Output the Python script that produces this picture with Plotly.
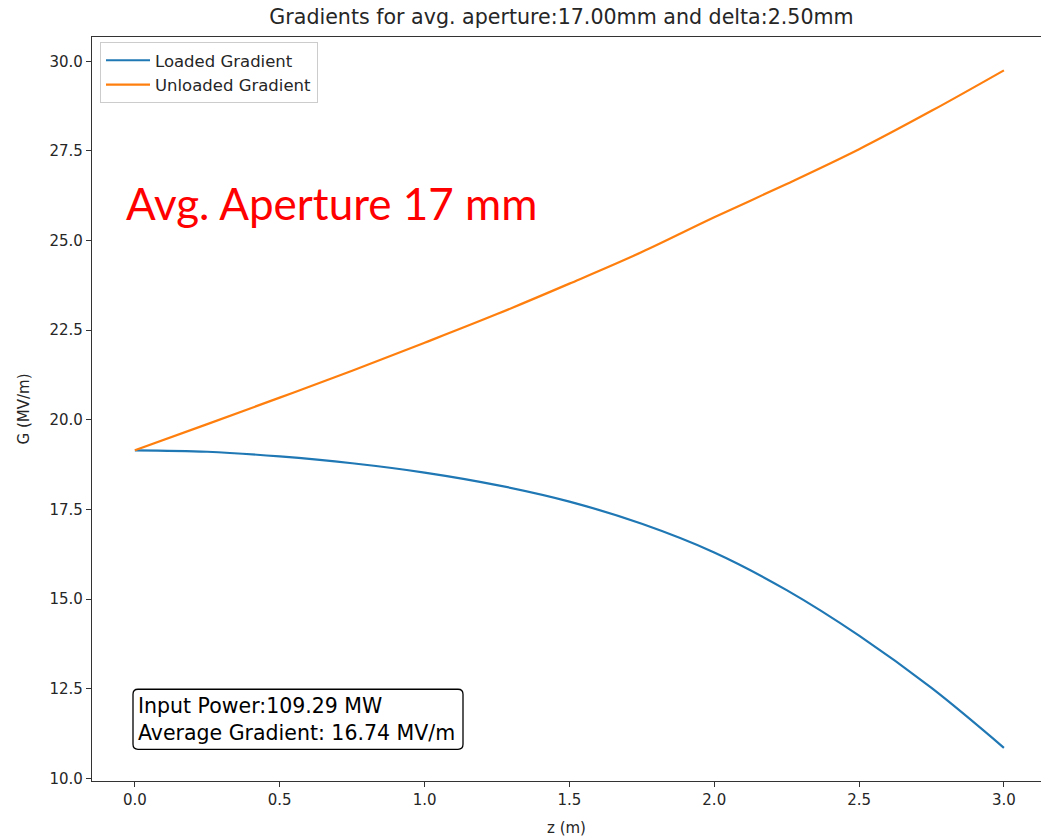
import plotly.graph_objects as go

# Position along the structure (m)
z = [0.0, 0.25, 0.5, 0.75, 1.0, 1.25, 1.5, 1.75, 2.0, 2.25, 2.5, 2.75, 3.0]

# Gradient profiles (MV/m)
loaded_gradient = [19.15, 19.11, 18.98, 18.79, 18.53, 18.18, 17.72, 17.10,
                   16.30, 15.25, 13.98, 12.52, 10.85]
unloaded_gradient = [19.15, 19.88, 20.62, 21.37, 22.15, 22.95, 23.80, 24.68,
                     25.65, 26.58, 27.55, 28.62, 29.75]

input_power_mw = 109.29
average_gradient = 16.74
avg_aperture_mm = 17.00
delta_mm = 2.50

x_ticks = [0.0, 0.5, 1.0, 1.5, 2.0, 2.5, 3.0]
y_ticks = [10.0, 12.5, 15.0, 17.5, 20.0, 22.5, 25.0, 27.5, 30.0]

TEXT = "#262626"
AXIS = "#333333"

# plot-area geometry in pixels
PL, PR, PT, PB = 92, 1041, 37, 780.7
PW, PH = PR - PL, PB - PT


def px(x):
    return (x - PL) / PW


def py(y):
    return (PB - y) / PH


fig = go.Figure()
fig.add_trace(go.Scatter(x=z, y=loaded_gradient, mode="lines", name="Loaded Gradient",
                         line=dict(color="#1f77b4", width=2.2, shape="spline")))
fig.add_trace(go.Scatter(x=z, y=unloaded_gradient, mode="lines", name="Unloaded Gradient",
                         line=dict(color="#ff7f0e", width=2.2, shape="spline")))

fig.update_layout(
    width=1041, height=838,
    margin=dict(l=PL, r=1041 - PR, t=PT, b=838 - PB),
    paper_bgcolor="white", plot_bgcolor="white",
    font=dict(family="DejaVu Sans", size=14, color=TEXT),
    showlegend=True,
    legend=dict(x=px(100), y=py(42), xanchor="left", yanchor="top",
                bgcolor="rgba(255,255,255,0.8)", bordercolor="#cccccc", borderwidth=1,
                font=dict(size=16.5, color=TEXT), tracegroupgap=0, itemwidth=44),
    title=dict(text=f"Gradients for avg. aperture:{avg_aperture_mm:.2f}mm and delta:{delta_mm:.2f}mm",
               x=px(561.5), xref="paper", xanchor="center",
               y=1 - 17 / 838, yref="container", yanchor="middle",
               font=dict(size=20.6, color=TEXT)),
)

fig.update_xaxes(range=[-0.148, 3.128], tickvals=x_ticks,
                 ticktext=[f"{v:.1f}" for v in x_ticks],
                 showgrid=False, zeroline=False, showline=True, linecolor=AXIS,
                 linewidth=1.3, mirror=True, ticks="outside", ticklen=5, tickwidth=1.2,
                 tickcolor=AXIS, tickfont=dict(size=15),
                 title=dict(text="z (m)", font=dict(size=15), standoff=14))
fig.update_yaxes(range=[9.925, 30.68], tickvals=y_ticks,
                 ticktext=[f"{v:.1f}" for v in y_ticks],
                 showgrid=False, zeroline=False, showline=True, linecolor=AXIS,
                 linewidth=1.3, mirror=False, ticks="outside", ticklen=5, tickwidth=1.2,
                 tickcolor=AXIS, tickfont=dict(size=15),
                 title=dict(text="G (MV/m)", font=dict(size=15), standoff=16))

# Summary box in the lower-left corner (rounded frame drawn as a path)
bx0, bx1, by0, by1, r = 133, 463, 689, 749, 5
X0, X1 = px(bx0), px(bx1)
Y0, Y1 = py(by1), py(by0)
rx, ry = r / PW, r / PH
fig.add_shape(
    type="path", xref="paper", yref="paper",
    path=(f"M {X0 + rx},{Y0} L {X1 - rx},{Y0} Q {X1},{Y0} {X1},{Y0 + ry} "
          f"L {X1},{Y1 - ry} Q {X1},{Y1} {X1 - rx},{Y1} "
          f"L {X0 + rx},{Y1} Q {X0},{Y1} {X0},{Y1 - ry} "
          f"L {X0},{Y0 + ry} Q {X0},{Y0} {X0 + rx},{Y0} Z"),
    line=dict(color="black", width=1.3), fillcolor="white", layer="above")
fig.add_annotation(
    xref="paper", yref="paper", x=px(bx0 + 3), y=py((by0 + by1) / 2),
    xanchor="left", yanchor="middle", align="left", showarrow=False,
    text=f"Input Power:{input_power_mw:.2f} MW<br>Average Gradient: {average_gradient:.2f} MV/m",
    font=dict(size=20.5, color="black"))

# Aperture label
fig.add_annotation(
    xref="paper", yref="paper", x=px(124), y=py(203),
    xanchor="left", yanchor="middle", showarrow=False,
    text=f"Avg. Aperture {avg_aperture_mm:.0f} mm",
    font=dict(family="Lato", size=44, color="#ff0000"))

fig.write_html("out.html")
